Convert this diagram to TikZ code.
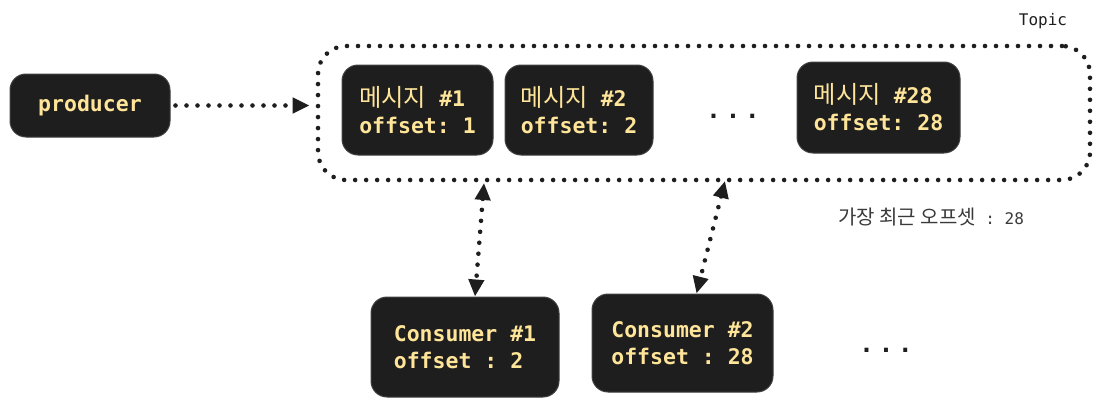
\documentclass[tikz,border=0pt]{standalone}
\usepackage{fontspec}
\setmonofont{DejaVu Sans Mono}
\newfontfamily\kr[Scale=1.25]{Noto Sans CJK KR}
\newfontfamily\krbox[Scale=1.13]{Noto Sans CJK KR}
\usetikzlibrary{arrows.meta}
\definecolor{boxfill}{HTML}{1E1E1E}
\definecolor{txtyel}{HTML}{FFE599}
\definecolor{ink}{HTML}{1E1E1E}
\definecolor{note}{HTML}{3A3A3A}
\tikzset{
  darkbox/.style={fill=boxfill, draw=boxfill!85!white, line width=1pt, rounded corners=16pt,
    text=txtyel, font=\fontsize{21.5}{27}\selectfont\ttfamily\bfseries, align=left, inner sep=0pt},
  dotline/.style={line width=4.6pt, line cap=round, dash pattern=on 0pt off 11pt, draw=ink},
  tipend/.style={-{Triangle[length=17pt,width=15pt]}},
  tipboth/.style={{Triangle[length=17pt,width=15pt]}-{Triangle[length=17pt,width=15pt]}},
  smalltext/.style={text=note, font=\fontsize{16}{20}\selectfont\ttfamily, inner sep=0pt},
  ellip/.style={text=ink, font=\fontsize{24}{27}\selectfont\ttfamily\bfseries, inner sep=0pt}
}
\begin{document}
\begin{tikzpicture}[x=1pt,y=-1pt]
\useasboundingbox (0,0) rectangle (1099,404);
% topic container
\node[dotline, draw, rounded corners=28pt, minimum width=772pt, minimum height=134pt, inner sep=0pt] (topic) at (704,113) {};
\node[smalltext, text=ink] (topiclabel) at (1043,21) {Topic};
% producer
\node[darkbox, minimum width=160pt, minimum height=63pt] (producer) at (90,105.5) {producer};
% messages
\node[darkbox, minimum width=151pt, minimum height=90pt] (m1) at (417.5,110) {{\krbox\mdseries 메시지} \#1\\offset: 1};
\node[darkbox, minimum width=148pt, minimum height=90pt] (m2) at (579,110) {{\krbox\mdseries 메시지} \#2\\offset: 2};
\node[ellip] (mdots) at (733,116) {.\hspace{5pt}.\hspace{5pt}.};
\node[darkbox, minimum width=163pt, minimum height=91pt] (m28) at (878.5,107.5) {{\krbox\mdseries 메시지} \#28\\offset: 28};
\node[smalltext] (latest) at (931,217) {{\kr 가장 최근 오프셋} : 28};
% consumers
\node[darkbox, minimum width=188pt, minimum height=100pt] (c1) at (465,347) {Consumer \#1\\offset : 2};
\node[darkbox, minimum width=181pt, minimum height=98pt] (c2) at (682.5,343) {Consumer \#2\\offset : 28};
\node[ellip] (cdots) at (886,350) {.\hspace{5pt}.\hspace{5pt}.};
% connectors
\coordinate (t1) at (484,183);
\coordinate (t2) at (725,181);
\draw[dotline, tipend, shorten <=5pt, shorten >=6pt] (producer.east) -- (topic.west |- producer.east);
\draw[dotline, tipboth] (t1) -- ([xshift=10pt]c1.north);
\draw[dotline, tipboth] (t2) -- ([xshift=14pt]c2.north);
\end{tikzpicture}
\end{document}
